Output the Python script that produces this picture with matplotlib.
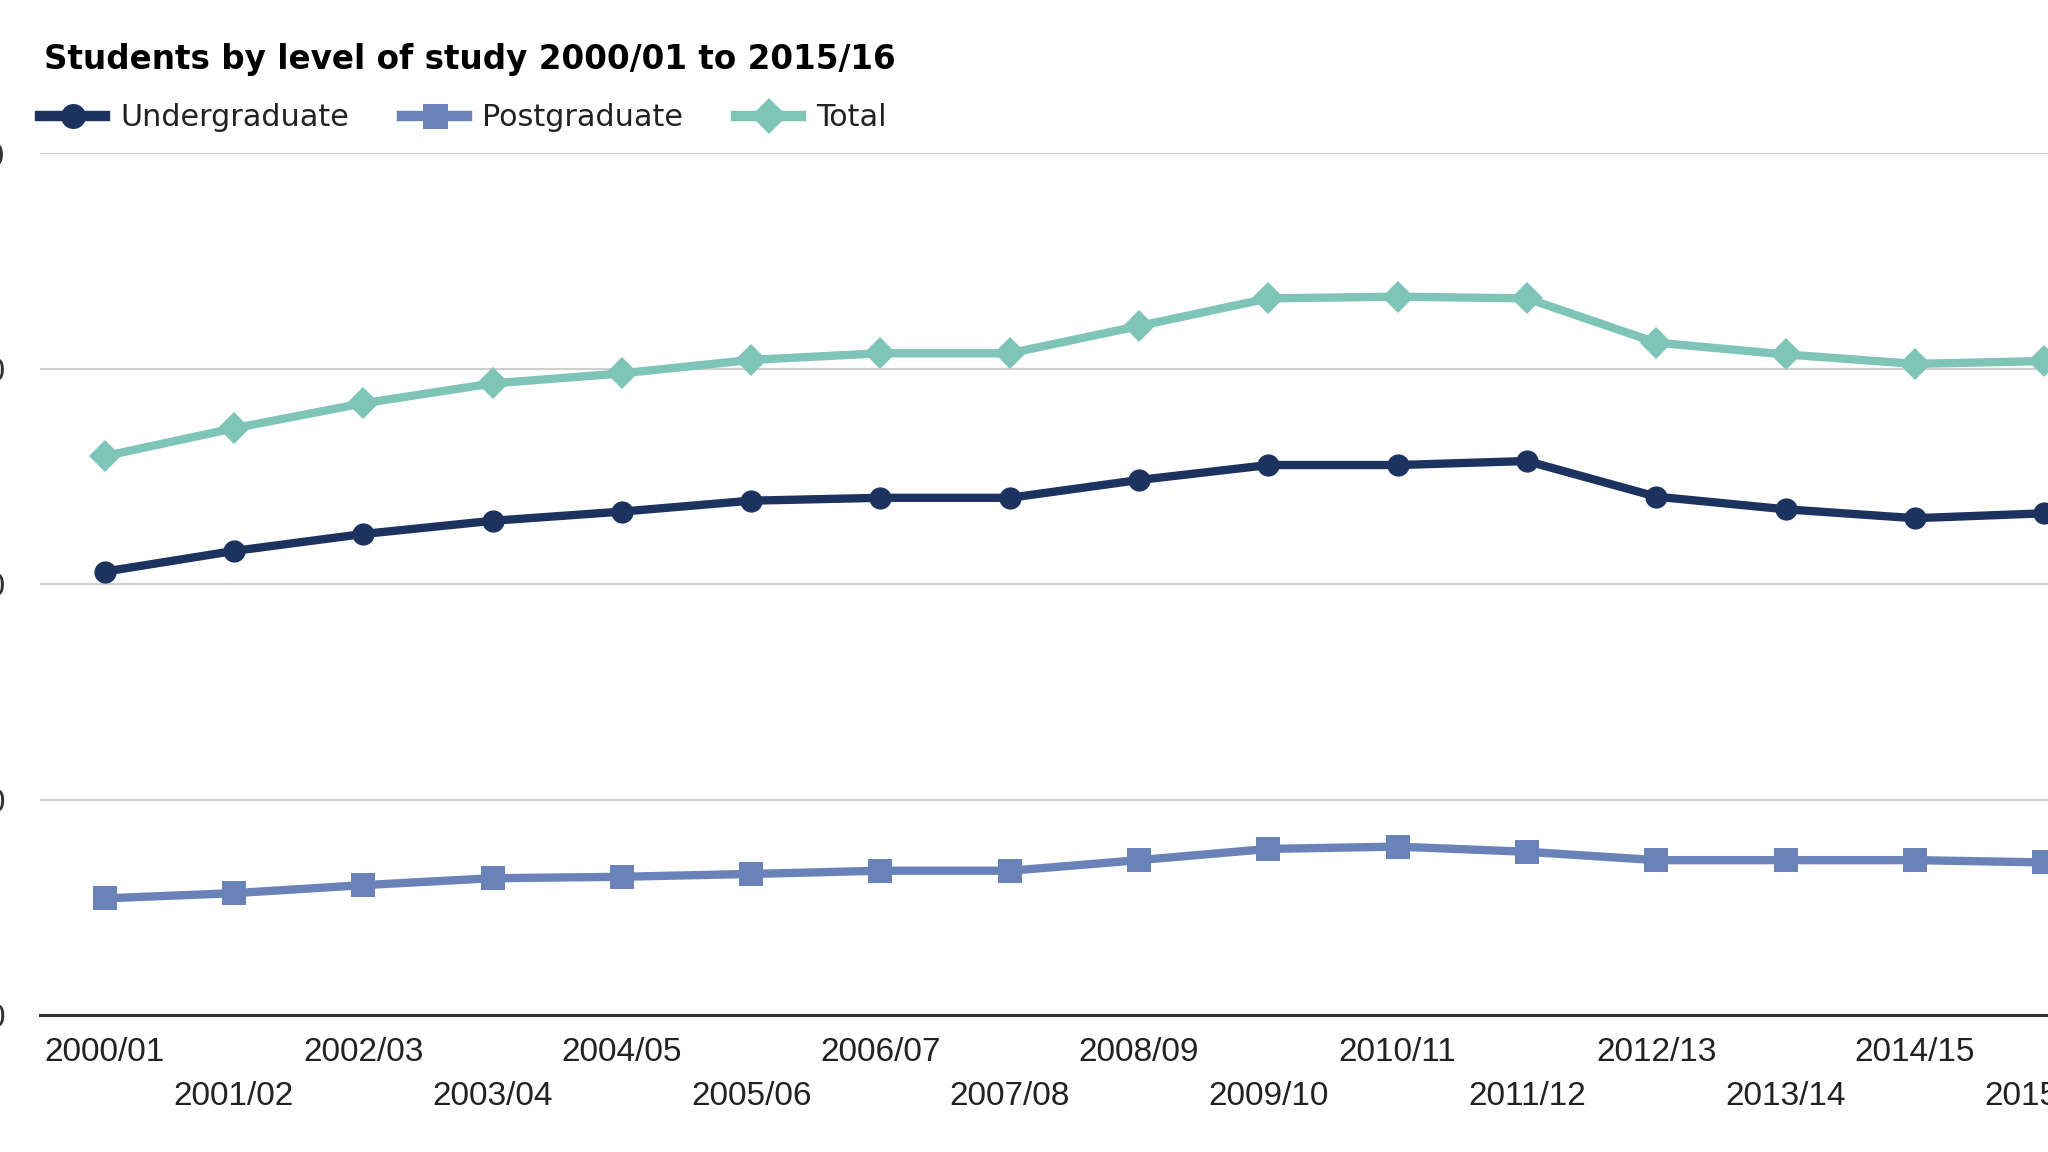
import matplotlib
matplotlib.use("Agg")
import matplotlib.pyplot as plt
from matplotlib.ticker import FuncFormatter

years = ["2000/01", "2001/02", "2002/03", "2003/04", "2004/05", "2005/06",
         "2006/07", "2007/08", "2008/09", "2009/10", "2010/11", "2011/12",
         "2012/13", "2013/14", "2014/15", "2015/16"]
undergraduate = [1543000, 1615000, 1674000, 1720000, 1752000, 1790000, 1800000, 1800000,
                 1862000, 1914000, 1914000, 1928000, 1804000, 1760000, 1729000, 1746000]
postgraduate = [406000, 424000, 452000, 476000, 481000, 491000, 502000, 502000,
                539000, 578000, 586000, 568000, 539000, 539000, 539000, 531000]
total = [1945000, 2042000, 2129000, 2198000, 2233000, 2280000, 2303000, 2303000,
         2398000, 2494000, 2500000, 2494000, 2340000, 2299000, 2266000, 2276000]
y_ticks = [0, 750000, 1500000, 2250000, 3000000]

title = "Students by level of study 2000/01 to 2015/16"
series_names = ["Undergraduate", "Postgraduate", "Total"]
colors = ["#1c335f", "#6983b8", "#7fc5b7"]
markers = ["o", "s", "D"]
msizes = [16, 17, 16]

plt.rcParams['font.family'] = ['DejaVu Sans']
TICKFONT = ['Liberation Sans', 'DejaVu Sans']

W, H = 2048, 1152
fig = plt.figure(figsize=(W / 100, H / 100), dpi=100)
fig.patch.set_facecolor("white")

ax_left, ax_bottom, ax_top = 40, H - 1015, H - 153
band = 129.3
ax_width = band * len(years)
ax = fig.add_axes([ax_left / W, ax_bottom / H, ax_width / W, (ax_top - ax_bottom) / H])

x = list(range(len(years)))
handles = []
for vals, name, c, m, ms in zip([undergraduate, postgraduate, total], series_names, colors, markers, msizes):
    h, = ax.plot(x, vals, color=c, lw=6, marker=m, markersize=ms, markeredgewidth=0,
                 label=name, solid_joinstyle="round", zorder=3)
    handles.append(h)

ax.set_xlim(-0.5, len(years) - 0.5)
ax.set_ylim(y_ticks[0], y_ticks[-1])
ax.set_yticks(y_ticks)
ax.yaxis.set_major_formatter(FuncFormatter(lambda v, p: f"{int(v):,}"))
ax.grid(axis="y", color="#cfcfcf", lw=1.6, zorder=0)
ax.grid(axis="x", visible=False)
for s in ["top", "right", "left"]:
    ax.spines[s].set_visible(False)
ax.spines["bottom"].set_color("#333333")
ax.spines["bottom"].set_linewidth(2.2)
ax.spines["bottom"].set_zorder(4)
ax.tick_params(axis="y", length=0, pad=25, labelsize=24, labelcolor="#333333")
ax.tick_params(axis="x", length=0, labelsize=24, labelcolor="#222222")
ax.set_xticks(x)
ax.set_xticklabels(years)
for lbl in ax.get_xticklabels() + ax.get_yticklabels():
    lbl.set_family(TICKFONT)
for i, t in enumerate(ax.xaxis.get_major_ticks()):
    t.set_pad(15.5 if i % 2 == 0 else 47.5)

fig.text(44 / W, (H - 69) / H, title, fontsize=23.5, fontweight="bold",
         color="#000000", va="baseline", ha="left")

leg = fig.legend(handles=handles, labels=series_names, loc="center left",
                 bbox_to_anchor=(40 / W, (H - 118) / H), ncol=3, frameon=False,
                 fontsize=21.8, handlelength=2.15, handletextpad=0.5,
                 columnspacing=1.75, borderpad=0, borderaxespad=0, markerscale=1.0)
for t in leg.get_texts():
    t.set_color("#222222")
for lh in leg.legend_handles:
    lh.set_linewidth(7.5)
    lh.set_markersize(18)

fig.savefig("out.png", dpi=100, facecolor="white")
